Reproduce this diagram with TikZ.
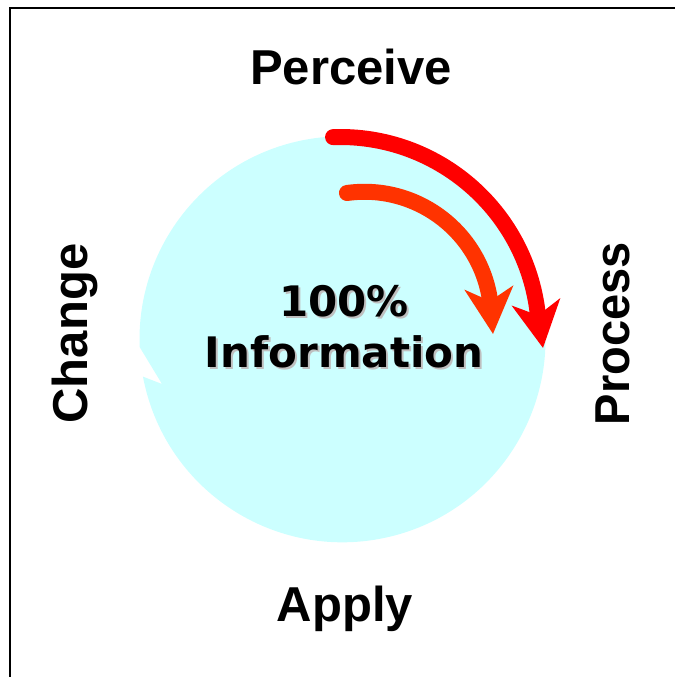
\documentclass[tikz,border=0pt]{standalone}
\usepackage{fontspec}
\setmainfont{Liberation Sans}
\newfontfamily\infofont{DejaVu Sans}
\usetikzlibrary{arrows.meta}
\definecolor{infocyan}{HTML}{CCFFFF}
\definecolor{outerred}{HTML}{FF0000}
\definecolor{innerorange}{HTML}{FF3300}
\newcommand\castshadow[1]{\rlap{\kern2pt\raisebox{-2pt}{\textcolor{black!25}{#1}}}#1}
\tikzset{stage/.style = {font=\bfseries\fontsize{49}{58}\selectfont, inner sep=0pt, anchor=base}}
\tikzset{infotext/.style = {font=\infofont\bfseries\fontsize{42}{51}\selectfont, inner sep=0pt, anchor=base}}
\tikzset{flowarrow/.style = {line width=16pt, line cap=round, -{Stealth[length=46pt, width=48pt, inset=13pt]}}}

\begin{document}
\begin{tikzpicture}[x=1pt, y=1pt]
\useasboundingbox (0,0) rectangle (675,677);
\draw[line width=2pt] (10,0) -- (10,668.7) -- (675,668.7);

% the round field with its notch on the left
\coordinate (hub) at (342.5,337.7);
\fill[infocyan] (hub) ++(190.6:203) arc[start angle=190.6, end angle=542.2, radius=203] -- (162,293) -- cycle;

% the two arrows
\coordinate (redhub) at (340,341);
\coordinate (redtip) at (543,329);
\coordinate (orangehub) at (364.4,358.2);
\coordinate (orangetip) at (493,343);
\draw[flowarrow, outerred] (redhub) ++(92:199) arc[start angle=92, end angle=6.6, radius=199] -- (redtip);
\draw[flowarrow, innerorange] (orangehub) ++(97.9:127) arc[start angle=97.9, end angle=8.5, radius=127] -- (orangetip);

% centre text
\node (pct) [infotext] at (344,360.3) {\castshadow{100\%}};
\node (info) [infotext] at (344,309) {\castshadow{Information}};

% the four stages
\node (perceive) [stage] at (351,592) {Perceive};
\node (process) [stage, rotate=90, xscale=0.96] at (629,343.4) {Process};
\node (apply) [stage] at (345,55) {Apply};
\node (change) [stage, rotate=90] at (87,343.4) {Change};
\end{tikzpicture}
\end{document}
